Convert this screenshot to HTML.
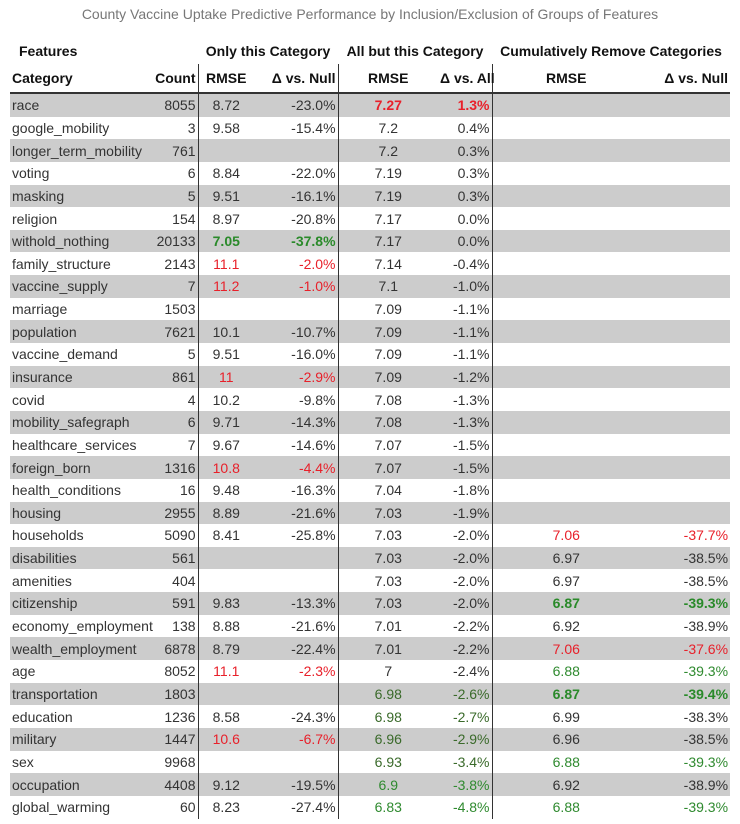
<!DOCTYPE html>
<html><head><meta charset="utf-8"><style>
body{margin:0;width:740px;height:824px;background:#fff;font-family:"Liberation Sans",sans-serif;position:relative;overflow:hidden}
.title{position:absolute;top:6px;left:0;width:740px;text-align:center;font-size:14px;color:#777}
table{position:absolute;left:10px;top:38px;width:720px;border-collapse:collapse;table-layout:fixed;font-size:14px;color:#333}
td,th{padding:0 2px;white-space:nowrap;height:22.65px;line-height:22px;overflow:visible}
th{color:#111;font-weight:bold}
tr.h1 th{height:26px;line-height:26px;text-align:center}
tr.h2 th{height:28px;border-bottom:2px solid #333}
tbody tr:nth-child(odd) td{background:#ccc}
.l{text-align:left}.r{text-align:right}.c{text-align:center}
.b{border-right:1.5px solid #333}
.red{color:#e8202a}.grn{color:#2a8a2a;font-weight:bold}.g2{color:#2f8a2f}.g1{color:#3a6a2a}
.bo{font-weight:bold}
</style></head><body>
<div class="title">County Vaccine Uptake Predictive Performance by Inclusion/Exclusion of Groups of Features</div>
<table>
<colgroup><col style="width:140px"><col style="width:48px"><col style="width:56px"><col style="width:84px"><col style="width:100px"><col style="width:54px"><col style="width:148px"><col style="width:90px"></colgroup>
<thead>
<tr class="h1"><th colspan="2" style="text-align:left;padding-left:9px">Features</th><th colspan="2">Only this Category</th><th colspan="2">All but this Category</th><th colspan="2">Cumulatively Remove Categories</th></tr>
<tr class="h2"><th class="l">Category</th><th class="r b">Count</th><th class="c">RMSE</th><th class="r b">Δ vs. Null</th><th class="c">RMSE</th><th class="r b">Δ vs. All</th><th class="c">RMSE</th><th class="r">Δ vs. Null</th></tr>
</thead>
<tbody>
<tr><td>race</td><td class="r b">8055</td><td class="c">8.72</td><td class="r b">-23.0%</td><td class="c red bo">7.27</td><td class="r b red bo">1.3%</td><td></td><td></td></tr>
<tr><td>google_mobility</td><td class="r b">3</td><td class="c">9.58</td><td class="r b">-15.4%</td><td class="c">7.2</td><td class="r b">0.4%</td><td></td><td></td></tr>
<tr><td>longer_term_mobility</td><td class="r b">761</td><td class="c"></td><td class="r b"></td><td class="c">7.2</td><td class="r b">0.3%</td><td></td><td></td></tr>
<tr><td>voting</td><td class="r b">6</td><td class="c">8.84</td><td class="r b">-22.0%</td><td class="c">7.19</td><td class="r b">0.3%</td><td></td><td></td></tr>
<tr><td>masking</td><td class="r b">5</td><td class="c">9.51</td><td class="r b">-16.1%</td><td class="c">7.19</td><td class="r b">0.3%</td><td></td><td></td></tr>
<tr><td>religion</td><td class="r b">154</td><td class="c">8.97</td><td class="r b">-20.8%</td><td class="c">7.17</td><td class="r b">0.0%</td><td></td><td></td></tr>
<tr><td>withold_nothing</td><td class="r b">20133</td><td class="c grn">7.05</td><td class="r b grn">-37.8%</td><td class="c">7.17</td><td class="r b">0.0%</td><td></td><td></td></tr>
<tr><td>family_structure</td><td class="r b">2143</td><td class="c red">11.1</td><td class="r b red">-2.0%</td><td class="c">7.14</td><td class="r b">-0.4%</td><td></td><td></td></tr>
<tr><td>vaccine_supply</td><td class="r b">7</td><td class="c red">11.2</td><td class="r b red">-1.0%</td><td class="c">7.1</td><td class="r b">-1.0%</td><td></td><td></td></tr>
<tr><td>marriage</td><td class="r b">1503</td><td class="c"></td><td class="r b"></td><td class="c">7.09</td><td class="r b">-1.1%</td><td></td><td></td></tr>
<tr><td>population</td><td class="r b">7621</td><td class="c">10.1</td><td class="r b">-10.7%</td><td class="c">7.09</td><td class="r b">-1.1%</td><td></td><td></td></tr>
<tr><td>vaccine_demand</td><td class="r b">5</td><td class="c">9.51</td><td class="r b">-16.0%</td><td class="c">7.09</td><td class="r b">-1.1%</td><td></td><td></td></tr>
<tr><td>insurance</td><td class="r b">861</td><td class="c red">11</td><td class="r b red">-2.9%</td><td class="c">7.09</td><td class="r b">-1.2%</td><td></td><td></td></tr>
<tr><td>covid</td><td class="r b">4</td><td class="c">10.2</td><td class="r b">-9.8%</td><td class="c">7.08</td><td class="r b">-1.3%</td><td></td><td></td></tr>
<tr><td>mobility_safegraph</td><td class="r b">6</td><td class="c">9.71</td><td class="r b">-14.3%</td><td class="c">7.08</td><td class="r b">-1.3%</td><td></td><td></td></tr>
<tr><td>healthcare_services</td><td class="r b">7</td><td class="c">9.67</td><td class="r b">-14.6%</td><td class="c">7.07</td><td class="r b">-1.5%</td><td></td><td></td></tr>
<tr><td>foreign_born</td><td class="r b">1316</td><td class="c red">10.8</td><td class="r b red">-4.4%</td><td class="c">7.07</td><td class="r b">-1.5%</td><td></td><td></td></tr>
<tr><td>health_conditions</td><td class="r b">16</td><td class="c">9.48</td><td class="r b">-16.3%</td><td class="c">7.04</td><td class="r b">-1.8%</td><td></td><td></td></tr>
<tr><td>housing</td><td class="r b">2955</td><td class="c">8.89</td><td class="r b">-21.6%</td><td class="c">7.03</td><td class="r b">-1.9%</td><td></td><td></td></tr>
<tr><td>households</td><td class="r b">5090</td><td class="c">8.41</td><td class="r b">-25.8%</td><td class="c">7.03</td><td class="r b">-2.0%</td><td class="c red">7.06</td><td class="r red">-37.7%</td></tr>
<tr><td>disabilities</td><td class="r b">561</td><td class="c"></td><td class="r b"></td><td class="c">7.03</td><td class="r b">-2.0%</td><td class="c">6.97</td><td class="r">-38.5%</td></tr>
<tr><td>amenities</td><td class="r b">404</td><td class="c"></td><td class="r b"></td><td class="c">7.03</td><td class="r b">-2.0%</td><td class="c">6.97</td><td class="r">-38.5%</td></tr>
<tr><td>citizenship</td><td class="r b">591</td><td class="c">9.83</td><td class="r b">-13.3%</td><td class="c">7.03</td><td class="r b">-2.0%</td><td class="c grn">6.87</td><td class="r grn">-39.3%</td></tr>
<tr><td>economy_employment</td><td class="r b">138</td><td class="c">8.88</td><td class="r b">-21.6%</td><td class="c">7.01</td><td class="r b">-2.2%</td><td class="c">6.92</td><td class="r">-38.9%</td></tr>
<tr><td>wealth_employment</td><td class="r b">6878</td><td class="c">8.79</td><td class="r b">-22.4%</td><td class="c">7.01</td><td class="r b">-2.2%</td><td class="c red">7.06</td><td class="r red">-37.6%</td></tr>
<tr><td>age</td><td class="r b">8052</td><td class="c red">11.1</td><td class="r b red">-2.3%</td><td class="c">7</td><td class="r b">-2.4%</td><td class="c g2">6.88</td><td class="r g2">-39.3%</td></tr>
<tr><td>transportation</td><td class="r b">1803</td><td class="c"></td><td class="r b"></td><td class="c g1">6.98</td><td class="r b g1">-2.6%</td><td class="c grn">6.87</td><td class="r grn">-39.4%</td></tr>
<tr><td>education</td><td class="r b">1236</td><td class="c">8.58</td><td class="r b">-24.3%</td><td class="c g1">6.98</td><td class="r b g1">-2.7%</td><td class="c">6.99</td><td class="r">-38.3%</td></tr>
<tr><td>military</td><td class="r b">1447</td><td class="c red">10.6</td><td class="r b red">-6.7%</td><td class="c g1">6.96</td><td class="r b g1">-2.9%</td><td class="c">6.96</td><td class="r">-38.5%</td></tr>
<tr><td>sex</td><td class="r b">9968</td><td class="c"></td><td class="r b"></td><td class="c g1">6.93</td><td class="r b g1">-3.4%</td><td class="c g2">6.88</td><td class="r g2">-39.3%</td></tr>
<tr><td>occupation</td><td class="r b">4408</td><td class="c">9.12</td><td class="r b">-19.5%</td><td class="c g2">6.9</td><td class="r b g2">-3.8%</td><td class="c">6.92</td><td class="r">-38.9%</td></tr>
<tr><td>global_warming</td><td class="r b">60</td><td class="c">8.23</td><td class="r b">-27.4%</td><td class="c g2">6.83</td><td class="r b g2">-4.8%</td><td class="c g2">6.88</td><td class="r g2">-39.3%</td></tr>
</tbody></table>
</body></html>
